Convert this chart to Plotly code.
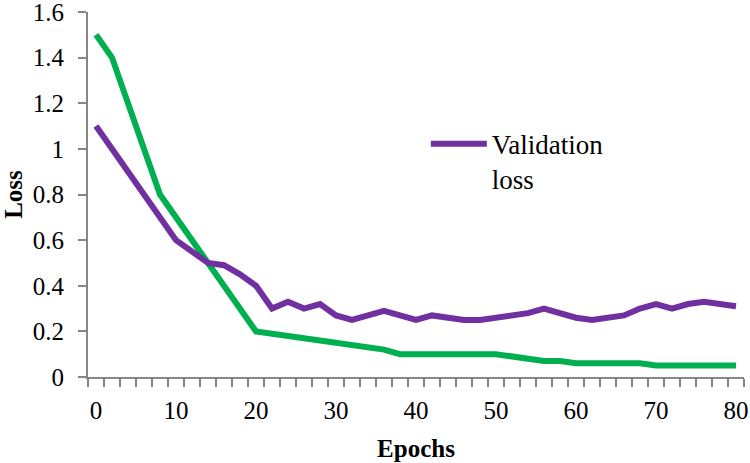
import plotly.graph_objects as go

# Training loss (green) vertices
train_epochs = [0, 2, 8, 20, 28, 36, 38, 50, 56, 58, 60, 68, 70, 80]
train_loss = [1.5, 1.4, 0.8, 0.2, 0.16, 0.12, 0.1, 0.1, 0.07, 0.07, 0.06, 0.06, 0.05, 0.05]

# Validation loss (purple) vertices
val_epochs = [0, 10, 14, 16, 18, 20, 22, 24, 26, 28, 30, 32, 34, 36, 38, 40, 42, 44, 46, 48,
              50, 52, 54, 56, 58, 60, 62, 64, 66, 68, 70, 72, 74, 76, 78, 80]
val_loss = [1.1, 0.6, 0.5, 0.49, 0.45, 0.4, 0.3, 0.33, 0.3, 0.32, 0.27, 0.25, 0.27, 0.29, 0.27, 0.25,
            0.27, 0.26, 0.25, 0.25, 0.26, 0.27, 0.28, 0.3, 0.28, 0.26, 0.25, 0.26, 0.27, 0.3, 0.32,
            0.3, 0.32, 0.33, 0.32, 0.31]

x_tick_vals = [0, 10, 20, 30, 40, 50, 60, 70, 80]
y_tick_vals = [0, 0.2, 0.4, 0.6, 0.8, 1.0, 1.2, 1.4, 1.6]
y_tick_text = ["0", "0.2", "0.4", "0.6", "0.8", "1", "1.2", "1.4", "1.6"]

PURPLE = "#7030A0"
GREEN = "#00B050"
AXIS = "#868686"
FONT = "Liberation Serif"

fig = go.Figure()
fig.add_trace(go.Scatter(x=train_epochs, y=train_loss, mode="lines", name="Training loss",
                         line=dict(color=GREEN, width=6), showlegend=False))
fig.add_trace(go.Scatter(x=val_epochs, y=val_loss, mode="lines", name="Validation<br>loss",
                         line=dict(color=PURPLE, width=6)))

fig.update_layout(
    width=750, height=463,
    margin=dict(l=88, r=6, t=12, b=86),
    paper_bgcolor="white", plot_bgcolor="white",
    font=dict(family=FONT, size=25, color="black"),
    legend=dict(x=0.515, y=0.705, xanchor="left", yanchor="top", valign="top",
                bgcolor="rgba(0,0,0,0)", font=dict(size=27), itemwidth=56),
)
fig.update_xaxes(
    range=[-1, 81], tickvals=x_tick_vals, ticks="", showgrid=False, zeroline=False,
    showline=True, linecolor=AXIS, linewidth=2, ticklabelstandoff=10, ticklabeloverflow="allow",
    minor=dict(ticks="outside", tick0=-1, dtick=2, ticklen=8, tickwidth=2, tickcolor=AXIS, showgrid=False),
    title=dict(text="<b>Epochs</b>", font=dict(size=25), standoff=16),
    automargin=False,
)
fig.update_yaxes(
    range=[0, 1.6], tickvals=y_tick_vals, ticktext=y_tick_text, ticks="outside", ticklen=8,
    tickwidth=2, tickcolor=AXIS, showgrid=False, zeroline=False, ticklabelstandoff=9,
    ticklabeloverflow="allow",
    showline=True, linecolor=AXIS, linewidth=2,
    title=dict(text="<b>Loss</b>", font=dict(size=25), standoff=22),
    automargin=False,
)

fig.write_html("out.html", config={"displayModeBar": False},
               post_script="document.body.style.margin='0';")
